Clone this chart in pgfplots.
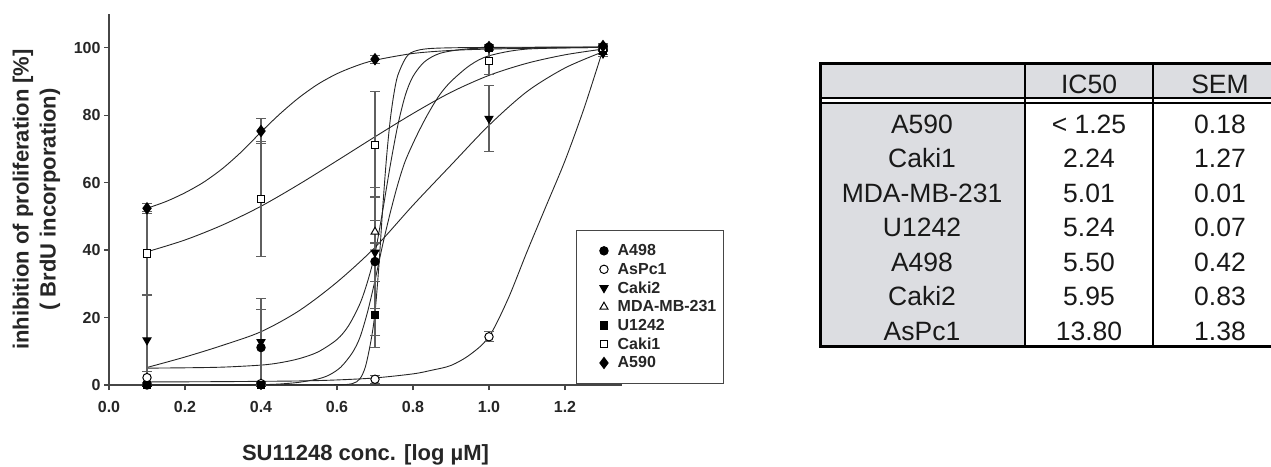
\documentclass[border=0pt]{standalone}
\usepackage{fontspec}
\setmainfont{Liberation Sans}
\usepackage{pgfplots}
\pgfplotsset{compat=1.18}

\definecolor{cellgray}{RGB}{220,221,225}
\definecolor{axisgray}{RGB}{70,70,70}
\definecolor{bargray}{RGB}{95,95,95}

\pgfplotsset{
  fit/.style={no marks, smooth, line width=0.9pt, black!85},
  ebar/.style={only marks, line width=1pt,
    error bars/y dir=both, error bars/y explicit,
    error bars/error mark=-,
    error bars/error bar style={line width=1.1pt, bargray},
    error bars/error mark options={rotate=90, mark size=5pt, line width=1.1pt, bargray},
    legend image code/.code={\path (-22pt,0pt);
      \draw[mark repeat=2, mark phase=2, ##1] plot coordinates {(-1pt,0pt) (0pt,0pt) (1pt,0pt)};}},
}

\begin{document}
\begin{tikzpicture}[x=1pt,y=1pt]
\useasboundingbox (0,0) rectangle (1271,466);

\begin{axis}[
  at={(109pt,81pt)}, anchor=south west,
  width=513pt, height=371pt, scale only axis,
  xmin=0, xmax=1.35, ymin=0, ymax=110,
  clip=false,
  axis lines=left, axis line style={-, line width=1.2pt, axisgray},
  xtick={0,0.2,0.4,0.6,0.8,1.0,1.2}, ytick={0,20,40,60,80,100},
  tick align=outside, major tick length=5pt,
  tick style={line width=1.2pt, axisgray},
  /pgf/number format/assume math mode=true,
  ticklabel style={font=\fontsize{16}{16}\selectfont\bfseries, text=black!85},
  x tick label style={/pgf/number format/fixed, /pgf/number format/fixed zerofill, /pgf/number format/precision=1, yshift=-8pt},
  xlabel={SU11248 conc. [log µM]},
  every axis x label/.style={at={(rel axis cs:0.5,0)}, yshift=-70pt, anchor=center,
    font=\fontsize{22}{26}\selectfont\bfseries, text=black!85},
  ylabel={inhibition of proliferation [\%]\\( BrdU incorporation)},
  every axis y label/.style={at={(rel axis cs:0,0.5)}, xshift=-72.5pt, rotate=90, anchor=center,
    align=center, font=\fontsize{22}{27}\selectfont\bfseries, text=black!85},
  legend style={at={(0.9103,0.4178)}, anchor=north west, draw=axisgray, line width=1pt,
    fill=white, font=\fontsize{16}{16}\selectfont\bfseries, text=black!85,
    inner xsep=5pt, inner ysep=12pt, row sep=1.9pt, /tikz/column sep=7.5pt,
    nodes={inner sep=2pt}, cells={anchor=west}},
]

% fitted dose-response curves
\addplot[fit, forget plot] coordinates {(0.10,52.4) (0.15,54.4) (0.20,57.0) (0.25,60.2) (0.30,64.3) (0.35,69.3) (0.40,75.0) (0.45,80.4) (0.50,85.2) (0.55,89.2) (0.60,92.3) (0.65,94.6) (0.70,96.3) (0.80,98.3) (0.90,99.2) (1.00,99.6) (1.15,99.9) (1.30,100.1)};
\addplot[fit, forget plot] coordinates {(0.10,39.5) (0.20,43.0) (0.30,47.5) (0.40,53.0) (0.50,59.5) (0.60,66.5) (0.70,73.6) (0.80,80.5) (0.90,86.8) (1.00,91.8) (1.10,95.4) (1.20,97.9) (1.30,99.6)};
\addplot[fit, forget plot] coordinates {(0.10,5.2) (0.20,8.3) (0.30,11.8) (0.40,15.8) (0.50,22.0) (0.60,30.5) (0.70,40.8) (0.80,53.3) (0.90,65.2) (1.00,77.0) (1.10,87.0) (1.20,94.0) (1.30,98.8)};
\addplot[fit, forget plot] coordinates {(0.10,0.9) (0.30,1.0) (0.50,1.2) (0.60,1.5) (0.70,2.1) (0.80,3.3) (0.85,4.4) (0.90,5.8) (0.95,9.0) (1.00,14.3) (1.05,25.5) (1.10,39.5) (1.15,53.0) (1.20,66.5) (1.25,82.0) (1.30,99.5)};
\addplot[fit, forget plot] coordinates {(0.10,0.0) (0.40,0.0) (0.60,0.1) (0.64,0.4) (0.66,1.8) (0.675,5.5) (0.69,13.5) (0.70,21.5) (0.71,35.0) (0.72,52.0) (0.73,67.0) (0.74,78.5) (0.75,86.5) (0.76,91.8) (0.78,96.8) (0.80,98.8) (0.85,99.8) (1.00,100.1) (1.30,100.2)};
\addplot[fit, forget plot] coordinates {(0.10,5.0) (0.20,5.1) (0.30,5.3) (0.40,5.9) (0.45,6.6) (0.50,7.8) (0.55,9.8) (0.60,13.5) (0.63,17.5) (0.66,24.0) (0.68,30.5) (0.70,39.0) (0.72,51.5) (0.74,65.0) (0.76,77.0) (0.78,86.0) (0.80,91.5) (0.83,95.8) (0.87,98.3) (0.93,99.5) (1.00,99.9) (1.30,100.2)};
\addplot[fit, forget plot] coordinates {(0.10,0.0) (0.30,0.0) (0.40,0.1) (0.45,0.3) (0.50,0.8) (0.55,1.8) (0.58,3.0) (0.61,5.3) (0.64,9.5) (0.66,14.0) (0.68,21.5) (0.70,31.0) (0.72,41.5) (0.74,51.0) (0.76,59.5) (0.78,66.5) (0.81,74.0) (0.84,80.5) (0.87,86.0) (0.90,90.0) (0.95,94.8) (1.00,97.6) (1.10,99.6) (1.30,100.1)};

% low-dose points that lie underneath the filled symbols
\addplot[ebar, mark=triangle*, mark size=4.6pt, mark options={fill=white, draw=black}, forget plot] coordinates {
 (0.1,0.3) +- (0,0.3) (0.4,0.3) +- (0,0.3)};
\addplot[ebar, mark=*, mark size=4.2pt, mark options={fill=white, draw=black}, forget plot] coordinates {
 (0.4,0.4) +- (0,0.3)};

% measured means with SEM
\addplot[ebar, mark=*, mark size=4.2pt, mark options={fill=black, draw=black}] coordinates {
 (0.1,0.0) +- (0,0.0) (0.4,11.1) +- (0,11.3) (0.7,36.6) +- (0,22.0) (1.0,100.2) +- (0,0.6) (1.3,100.3) +- (0,0.5)};
\addlegendentry{A498}
\addplot[ebar, mark=*, mark size=4.2pt, mark options={fill=white, draw=black}] coordinates {
 (0.1,2.2) +- (0,1.7) (0.7,1.7) +- (0,1.2) (1.0,14.3) +- (0,1.5) (1.3,99.5) +- (0,0.5)};
\addlegendentry{AsPc1}
\addplot[ebar, mark=triangle*, mark size=4.6pt, mark options={rotate=180, fill=black, draw=black}] coordinates {
 (0.1,13.3) +- (0,13.6) (0.4,12.8) +- (0,12.9) (0.7,39.3) +- (0,16.7) (1.0,79.0) +- (0,9.9) (1.3,98.3) +- (0,1.0)};
\addlegendentry{Caki2}
\addplot[ebar, mark=triangle*, mark size=4.6pt, mark options={fill=white, draw=black}] coordinates {
 (0.7,45.4) +- (0,3.3) (1.0,100.0) +- (0,0.5) (1.3,100.0) +- (0,0.5)};
\addlegendentry{MDA-MB-231}
\addplot[ebar, mark=square*, mark size=3.7pt, mark options={fill=black, draw=black}] coordinates {
 (0.1,0.0) +- (0,0.0) (0.4,0.0) +- (0,0.0) (0.7,20.8) +- (0,9.8) (1.0,100.0) +- (0,0.5) (1.3,99.0) +- (0,1.0)};
\addlegendentry{U1242}
\addplot[ebar, mark=square*, mark size=3.7pt, mark options={fill=white, draw=black}] coordinates {
 (0.1,39.0) +- (0,12.5) (0.4,55.2) +- (0,17.0) (0.7,71.2) +- (0,15.7) (1.0,96.0) +- (0,4.0) (1.3,100.0) +- (0,0.8)};
\addlegendentry{Caki1}
\addplot[ebar, mark=diamond*, mark size=5.5pt, mark options={fill=black, draw=black}] coordinates {
 (0.1,52.4) +- (0,1.5) (0.4,75.3) +- (0,3.6) (0.7,96.6) +- (0,1.2) (1.0,100.2) +- (0,0.6) (1.3,100.5) +- (0,0.6)};
\addlegendentry{A590}
\end{axis}

% IC50 summary table (runs off the right edge)
\fill[cellgray] (820,367.7) rectangle (1280,402.7);
\fill[cellgray] (820,119) rectangle (1025,362.7);
\draw[line width=2.5pt] (1025,119) -- (1025,402.7);
\draw[line width=2.5pt] (1153,119) -- (1153,402.7);
\draw[line width=2pt] (820,367.7) -- (1280,367.7);
\draw[line width=2pt] (820,362.7) -- (1280,362.7);
\draw[line width=3pt] (1280,119) -- (820,119) -- (820,402.7) -- (1280,402.7);
\begin{scope}[every node/.style={anchor=base, inner sep=0pt, font=\fontsize{26.5}{30}\selectfont, text=black!90}]
\node at (1089,372.5) {IC50};
\node at (1220,372.5) {SEM};
\foreach \name/\ic/\sem [count=\k from 0] in {A590/{< 1.25}/0.18, Caki1/2.24/1.27, MDA-MB-231/5.01/0.01, U1242/5.24/0.07, A498/5.50/0.42, Caki2/5.95/0.83, AsPc1/13.80/1.38}{
  \node at (922,332.5-34.5*\k) {\name};
  \node at (1089,332.5-34.5*\k) {\ic};
  \node at (1220,332.5-34.5*\k) {\sem};
}
\end{scope}
\end{tikzpicture}
\end{document}
